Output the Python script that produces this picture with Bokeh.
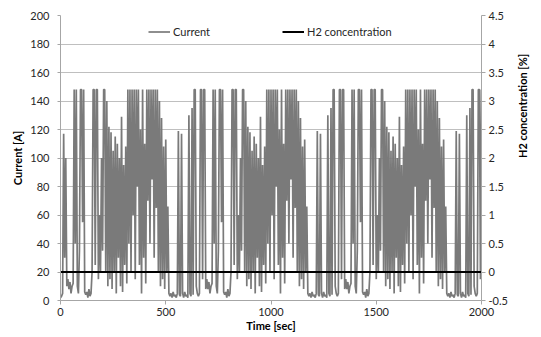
import math
from bokeh.plotting import figure
from bokeh.models import (Range1d, LinearAxis, FixedTicker, CustomJSTickFormatter,
                          Legend, LegendItem)
from bokeh.embed import file_html
from bokeh.resources import INLINE

# ---- data ----
TIME_STEP_S = 5
# first 30 s of the first drive cycle
START_FIRST = [2, 3, 5, 117, 30, 100, 10]
# first 30 s of the following cycles
START_NEXT = [5, 148, 148, 15, 148, 148, 8]
# rest of a drive cycle, 35 s .. 655 s
BODY = [
    15, 8, 13, 5, 10, 12, 148, 40, 148, 10,
    5, 35, 148, 148, 55, 148, 6, 4, 6, 2,
    8, 3, 5, 20, 148, 148, 25, 148, 148, 15,
    60, 20, 100, 35, 148, 148, 20, 140, 10, 122,
    15, 118, 8, 105, 20, 115, 5, 110, 30, 100,
    10, 129, 6, 95, 25, 108, 12, 148, 40, 148,
    20, 148, 60, 148, 15, 148, 80, 148, 25, 120,
    5, 148, 30, 110, 12, 148, 70, 148, 40, 148,
    85, 148, 30, 148, 65, 148, 20, 140, 10, 128,
    15, 108, 8, 113, 20, 66, 5, 3, 5, 2,
    6, 3, 4, 2, 5, 119, 4, 3, 117, 5,
    2, 6, 3, 4, 2, 130, 5, 3, 135, 4,
    148, 148, 10, 5, 3,
]
CURRENT = START_FIRST + BODY + START_NEXT + BODY + START_NEXT + BODY + START_NEXT[:5]
TIME = [i * TIME_STEP_S for i in range(len(CURRENT))]

H2_TIME = [0, 2000]
H2_CONC = [0, 0]

LEFT_TICKS = [0, 20, 40, 60, 80, 100, 120, 140, 160, 180, 200]
RIGHT_TICKS = [-0.5, 0, 0.5, 1, 1.5, 2, 2.5, 3, 3.5, 4, 4.5]
X_TICKS = [0, 500, 1000, 1500, 2000]

FONT = "Lato"
FS = "11px"
AXIS_GRAY = "#a6a6a6"
TEXT_COLOR = "#262626"

p = figure(width=538, height=334, output_backend="svg", toolbar_location=None,
           x_range=Range1d(0, 2000), y_range=Range1d(0, 200),
           min_border_left=60, min_border_right=56, min_border_top=15,
           min_border_bottom=32)
p.extra_y_ranges = {"h2": Range1d(-0.5, 4.5)}
p.outline_line_color = None
p.background_fill_color = "white"

r_cur = p.line(TIME, CURRENT, line_color="#7a7a7a", line_width=1.7)
r_h2 = p.line(H2_TIME, H2_CONC, y_range_name="h2", line_color="#000000", line_width=2)

p.xgrid.visible = False
p.ygrid.ticker = FixedTicker(ticks=LEFT_TICKS)
p.ygrid.grid_line_color = "#bfbfbf"
p.ygrid.grid_line_width = 1


def style_axis(ax):
    ax.axis_line_color = AXIS_GRAY
    ax.major_tick_line_color = AXIS_GRAY
    ax.minor_tick_line_color = None
    ax.major_tick_in = 0
    ax.major_label_text_font = FONT
    ax.major_label_text_font_size = FS
    ax.major_label_text_color = TEXT_COLOR
    ax.axis_label_text_font = FONT
    ax.axis_label_text_font_size = FS
    ax.axis_label_text_font_style = "bold"
    ax.axis_label_text_color = "#000000"


xa = p.xaxis[0]
xa.ticker = FixedTicker(ticks=X_TICKS)
xa.axis_label = "Time [sec]"
style_axis(xa)
xa.major_tick_out = 4
xa.major_label_standoff = 3
xa.axis_label_standoff = 0

ya = p.yaxis[0]
ya.ticker = FixedTicker(ticks=LEFT_TICKS)
ya.axis_label = "Current [A]"
style_axis(ya)
ya.major_tick_out = 3
ya.major_label_standoff = 8
ya.axis_label_standoff = 3

ra = LinearAxis(y_range_name="h2", axis_label="H2 concentration [%]",
                ticker=FixedTicker(ticks=RIGHT_TICKS),
                formatter=CustomJSTickFormatter(code="return tick.toString();"))
style_axis(ra)
ra.major_tick_out = 4
ra.major_label_standoff = 3
ra.axis_label_standoff = 12
ra.axis_label_orientation = math.pi / 2
p.add_layout(ra, "right")

legend = Legend(items=[LegendItem(label="Current", renderers=[r_cur]),
                       LegendItem(label="H2 concentration", renderers=[r_h2])],
                orientation="horizontal", location=(88, 262),
                border_line_color=None, background_fill_alpha=0,
                padding=0, margin=0, spacing=72, glyph_width=22, glyph_height=13,
                label_height=13, label_standoff=3,
                label_text_font=FONT, label_text_font_size=FS,
                label_text_color=TEXT_COLOR)
p.add_layout(legend)

open("out.html", "w").write(file_html(p, INLINE))
